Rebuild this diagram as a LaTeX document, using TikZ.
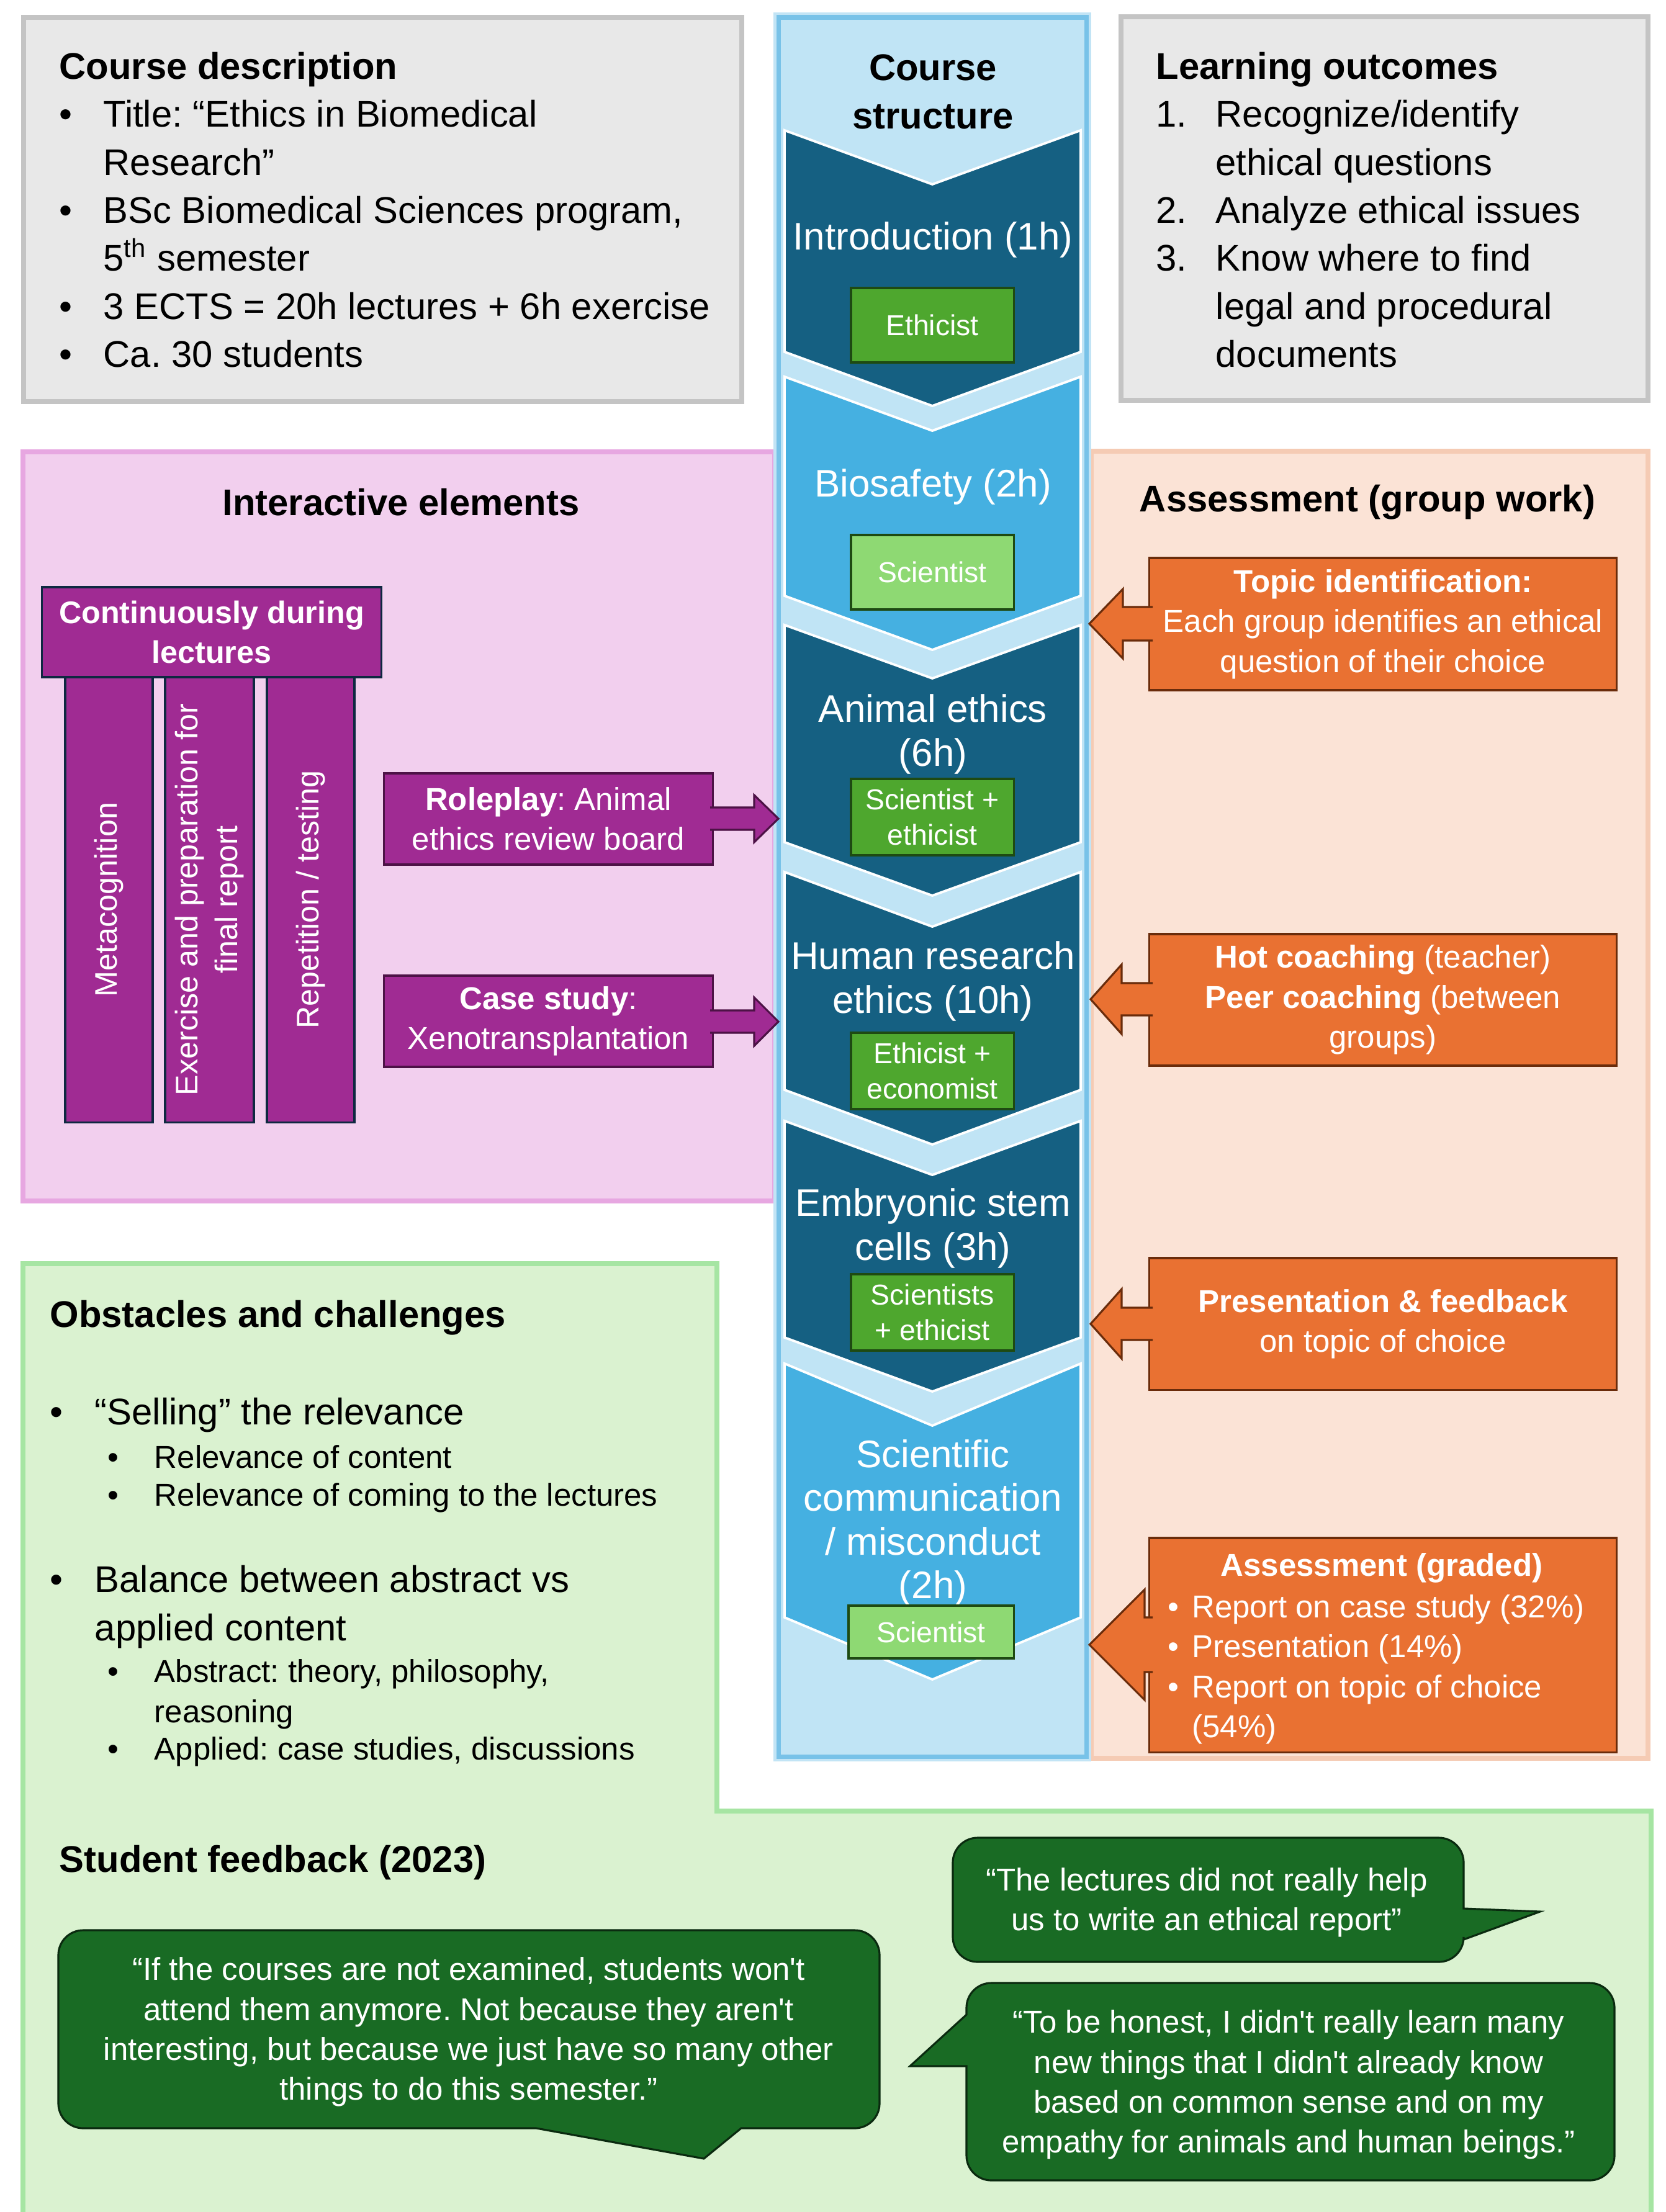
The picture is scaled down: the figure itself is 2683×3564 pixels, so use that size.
\documentclass[tikz,border=0pt]{standalone}
\usepackage{fontspec}
\setmainfont{Liberation Sans}
\usetikzlibrary{positioning}

\definecolor{chevdark}{HTML}{156082}
\definecolor{chevlight}{HTML}{45B0E1}
\definecolor{bluepanel}{HTML}{C0E4F5}
\definecolor{bluebrd}{HTML}{78C2E8}
\definecolor{whodark}{HTML}{4EA72E}
\definecolor{wholight}{HTML}{8ED973}
\definecolor{whobrd}{HTML}{1E4A12}
\definecolor{purp}{HTML}{A02B93}
\definecolor{navy}{HTML}{0E2841}
\definecolor{purpbrd}{HTML}{4D1246}
\definecolor{pinkpanel}{HTML}{F2CFEE}
\definecolor{pinkbrd}{HTML}{E7A7E1}
\definecolor{peach}{HTML}{FBE3D6}
\definecolor{peachbrd}{HTML}{F5CBB4}
\definecolor{orng}{HTML}{E97132}
\definecolor{orngbrd}{HTML}{6A2C0B}
\definecolor{greenpanel}{HTML}{DAF2D0}
\definecolor{greenbrd}{HTML}{A6E5A3}
\definecolor{bubgreen}{HTML}{196B24}
\definecolor{bubbrd}{HTML}{0A2A0F}
\definecolor{graybox}{HTML}{E8E8E8}
\definecolor{graybrd}{HTML}{C4C4C4}

\newcommand{\fsbody}{\fontsize{17}{22}\selectfont}
\newcommand{\fssmall}{\fontsize{14.5}{18.3}\selectfont}
\newcommand{\fschev}{\fontsize{17.6}{20}\selectfont}
\newcommand{\fswho}{\fontsize{13.2}{16.2}\selectfont}
\newcommand{\fshead}{\fontsize{14.3}{18}\selectfont}

% block arrow: style, base x, head base x, tip x, tip y, head half, shaft half
\newcommand{\blockarrow}[7]{%
  \path[#1] (#2,{#5-#7}) -- (#3,{#5-#7}) -- (#3,{#5-#6}) -- (#4,#5)
    -- (#3,{#5+#6}) -- (#3,{#5+#7}) -- (#2,{#5+#7});}

\tikzset{
  panel/.style={line width=2.5pt},
  chevron/.style={draw=white, line width=1.1pt, line join=miter},
  whobox/.style={fill=whodark, draw=whobrd, line width=0.9pt, text=white,
    font=\fswho, align=center, inner sep=0pt, minimum width=2.62cm},
  lilacbox/.style={fill=purp, draw=navy, line width=0.9pt, text=white,
    align=center, inner sep=0pt},
  lilacarrow/.style={fill=purp, draw=purpbrd, line width=0.9pt},
  orangebox/.style={fill=orng, draw=orngbrd, line width=0.9pt, text=white,
    font=\fssmall, align=center, inner sep=0pt, minimum width=7.52cm},
  orangearrow/.style={fill=orng, draw=orngbrd, line width=0.9pt},
  bubble/.style={fill=bubgreen, draw=bubbrd, line width=0.9pt, rounded corners=0.4cm},
  quote/.style={text=white, font=\fssmall, align=center, inner sep=0pt},
  headline/.style={font=\fsbody\bfseries, align=center, inner sep=0pt},
  chevtext/.style={text=white, font=\fschev, align=center, inner sep=0pt},
  listtext/.style={anchor=west, inner sep=0pt},
}

\begin{document}
\frenchspacing
\begin{tikzpicture}[x=0.01cm, y=-0.01cm]
\useasboundingbox (0,0) rectangle (2683,3564);
\fill[white] (0,0) rectangle (2683,3564);

% background panels
\draw[panel, fill=pinkpanel, draw=pinkbrd] (37,728) rectangle (1248,1935);
\draw[panel, fill=peach, draw=peachbrd] (1758,727) rectangle (2655,2833);
\draw[panel, fill=greenpanel, draw=greenbrd] (37,3620) -- (37,2036) -- (1155,2036)
  -- (1155,2918) -- (2660,2918) -- (2660,3620);
\draw[panel, fill=graybox, draw=graybrd] (38,28) rectangle (1195,647);
\draw[panel, fill=graybox, draw=graybrd] (1806,27) rectangle (2655,645);

% course structure column
\draw[draw=bluebrd!45, line width=4.5pt] (1254,28) rectangle (1750,2830);
\draw[fill=bluepanel, draw=bluebrd, line width=2pt] (1254,28) rectangle (1750,2830);
\foreach \ya/\yb/\nd/\cl in {210/567/87/chevdark, 607/960/87/chevlight,
    1007/1357/86/chevdark, 1405/1756/88/chevdark, 1806/2155/87/chevdark,
    2197/2606/100/chevlight}
  \draw[chevron, fill=\cl] (1264,\ya) -- (1502,{\ya+\nd}) -- (1741,\ya)
    -- (1741,\yb) -- (1502,{\yb+\nd}) -- (1264,\yb) -- cycle;

% course description and learning outcomes
\node[listtext, font=\fsbody] (desc) at (95,344) {%
  \begin{tabular}{@{}p{20.2pt}@{}l@{}}
  \multicolumn{2}{@{}l@{}}{\bfseries Course description}\\
  • & Title: “Ethics in Biomedical\\
    & Research”\\
  • & BSc Biomedical Sciences program,\\
    & 5\textsuperscript{th} semester\\
  • & 3 ECTS = 20h lectures + 6h exercise\\
  • & Ca. 30 students
  \end{tabular}};
\node[listtext, font=\fsbody] (outcomes) at (1862,344) {%
  \begin{tabular}{@{}p{27.3pt}@{}l@{}}
  \multicolumn{2}{@{}l@{}}{\bfseries Learning outcomes}\\
  1. & Recognize/identify\\
     & ethical questions\\
  2. & Analyze ethical issues\\
  3. & Know where to find\\
     & legal and procedural\\
     & documents
  \end{tabular}};

% course structure
\node[headline] (structure) at (1503,148) {Course\\structure};
\node[chevtext] (intro) at (1503,386) {Introduction (1h)};
\node[whobox, minimum height=1.20cm] (intro-who) at (1502,524) {Ethicist};
\node[chevtext] (biosafety) at (1503,784) {Biosafety (2h)};
\node[whobox, fill=wholight, minimum height=1.20cm] (biosafety-who) at (1502,922) {Scientist};
\node[chevtext] (animal) at (1503,1183) {Animal ethics\\(6h)};
\node[whobox, minimum height=1.23cm] (animal-who) at (1502,1316.5) {Scientist +\\ethicist};
\node[chevtext] (human) at (1503,1581) {Human research\\ethics (10h)};
\node[whobox, minimum height=1.23cm] (human-who) at (1502,1725.5) {Ethicist +\\economist};
\node[chevtext] (embryo) at (1503,1979) {Embryonic stem\\cells (3h)};
\node[whobox, minimum height=1.23cm] (embryo-who) at (1502,2114.5) {Scientists\\+ ethicist};
\node[chevtext] (scicom) at (1503,2454) {Scientific\\communication\\/ misconduct\\(2h)};
\node[whobox, fill=wholight, minimum width=2.66cm, minimum height=0.85cm] (scicom-who) at (1500,2629.5) {Scientist};

% interactive elements
\node[headline] (interactive) at (646,809) {Interactive elements};
\node[lilacbox, rotate=90, minimum width=7.17cm, minimum height=1.41cm, font=\fshead] (metacog) at (175.5,1449.5) {Metacognition};
\node[lilacbox, rotate=90, minimum width=7.17cm, minimum height=1.43cm, font=\fshead] (exercise) at (337.5,1449.5) {Exercise and preparation for\\final report};
\node[lilacbox, rotate=90, minimum width=7.17cm, minimum height=1.41cm, font=\fshead] (repetition) at (500.5,1449.5) {Repetition / testing};
\node[lilacbox, minimum width=5.46cm, minimum height=1.45cm, font=\fshead\bfseries] (continuous) at (341,1018.5) {Continuously during\\lectures};
\node[lilacbox, draw=purpbrd, minimum width=5.29cm, minimum height=1.47cm, font=\fssmall] (roleplay) at (883.5,1319.5) {\textbf{Roleplay}: Animal\\ethics review board};
\blockarrow{lilacarrow}{1144}{1215}{1254}{1319}{38}{18}
\node[lilacbox, draw=purpbrd, minimum width=5.29cm, minimum height=1.47cm, font=\fssmall] (casestudy) at (883.5,1645.5) {\textbf{Case study}:\\Xenotransplantation};
\blockarrow{lilacarrow}{1144}{1215}{1254}{1646}{39}{18}

% assessment
\node[headline] (assessment) at (2203,809) {Assessment (group work)};
\node[orangebox, minimum height=2.13cm] (topic) at (2228,1005.5) {\textbf{Topic identification:}\\Each group identifies an ethical\\question of their choice};
\blockarrow{orangearrow}{1857}{1809}{1755}{1005}{56}{27}
\node[orangebox, minimum height=2.12cm] (coaching) at (2228,1611) {\textbf{Hot coaching} (teacher)\\\textbf{Peer coaching} (between\\groups)};
\blockarrow{orangearrow}{1857}{1807}{1757}{1610}{56}{26}
\node[orangebox, minimum height=2.12cm] (presentation) at (2228,2133) {\textbf{Presentation \& feedback}\\on topic of choice};
\blockarrow{orangearrow}{1857}{1807}{1757}{2133}{56}{26}
\node[orangebox, minimum height=3.45cm] (graded) at (2228,2650.5) {};
\blockarrow{orangearrow}{1857}{1844}{1755}{2650}{89}{44}
\node[text=white, font=\fssmall\bfseries, inner sep=0pt] (graded-title) at (2226,2526) {Assessment (graded)};
\node[listtext, text=white, font=\fssmall] (graded-list) at (1881,2690) {%
  \begin{tabular}{@{}p{11pt}@{}l@{}}
  • & Report on case study (32\%)\\
  • & Presentation (14\%)\\
  • & Report on topic of choice\\
    & (54\%)
  \end{tabular}};

% obstacles and challenges
\node[listtext, font=\fsbody\bfseries] (obstacles) at (80,2123) {Obstacles and challenges};
\node[listtext, font=\fsbody] (selling) at (80,2280) {\makebox[20.5pt][l]{•}“Selling” the relevance};
\node[listtext, font=\fssmall] (content) at (173,2347) {\makebox[21.4pt][l]{•}Relevance of content};
\node[listtext, font=\fssmall] (coming) at (173,2413) {\makebox[21.4pt][l]{•}Relevance of coming to the lectures};
\node[listtext, font=\fsbody] (balance) at (80,2589) {%
  \begin{tabular}{@{}p{20.5pt}@{}l@{}}
  • & Balance between abstract vs\\
    & applied content
  \end{tabular}};
\node[listtext, font=\fssmall] (abstract) at (173,2730) {%
  \begin{tabular}{@{}p{21.4pt}@{}l@{}}
  • & Abstract: theory, philosophy,\\
    & reasoning
  \end{tabular}};
\node[listtext, font=\fssmall] (applied) at (173,2822) {\makebox[21.4pt][l]{•}Applied: case studies, discussions};

% student feedback
\node[listtext, font=\fsbody\bfseries] (feedback) at (95,3001) {Student feedback (2023)};
\draw[bubble] (1900,2961) -- (2358,2961) [sharp corners] -- (2358,3075) -- (2481,3080)
  -- (2358,3125) [rounded corners=0.4cm] -- (2358,3161) -- (1535,3161) -- (1535,2961) -- cycle;
\node[quote] (quote-report) at (1944,3065) {“The lectures did not really help\\us to write an ethical report”};
\draw[bubble] (500,3110) -- (1417,3110) -- (1417,3429) [sharp corners] -- (1194,3429)
  -- (1134,3478) -- (864,3429) [rounded corners=0.4cm] -- (94,3429) -- (94,3110) -- cycle;
\node[quote] (quote-exams) at (755,3274) {“If the courses are not examined, students won\textquotesingle t\\attend them anymore. Not because they aren\textquotesingle t\\interesting, but because we just have so many other\\things to do this semester.”};
\draw[bubble] (2000,3195) -- (2601,3195) -- (2601,3513) -- (1557,3513) [sharp corners]
  -- (1557,3329) -- (1466,3329) -- (1557,3246) [rounded corners=0.4cm] -- (1557,3195) -- cycle;
\node[quote] (quote-honest) at (2076,3359) {“To be honest, I didn\textquotesingle t really learn many\\new things that I didn\textquotesingle t already know\\based on common sense and on my\\empathy for animals and human beings.”};
\end{tikzpicture}
\end{document}
